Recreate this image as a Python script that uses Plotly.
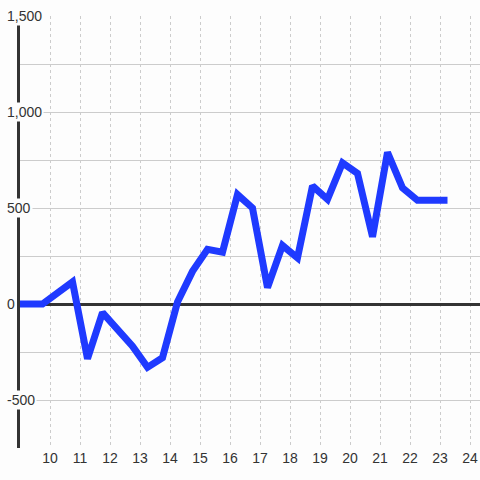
import plotly.graph_objects as go

x_vals = [9, 9.75, 10.75, 11.25, 11.75, 12.25, 12.75, 13.25, 13.75, 14.25, 14.75,
          15.25, 15.75, 16.25, 16.75, 17.25, 17.75, 18.25, 18.75, 19.25, 19.75,
          20.25, 20.75, 21.25, 21.75, 22.25, 22.75, 23.25]
y_vals = [0, 0, 115, -285, -45, -130, -220, -330, -280, 10, 170,
          285, 270, 570, 500, 85, 305, 240, 615, 545, 735,
          680, 350, 790, 605, 540, 540, 540]

x_ticks = list(range(10, 25))
y_label_vals = [-500, 0, 500, 1000, 1500]
y_label_text = ["-500", "0", "500", "1,000", "1,500"]

BG = "#fdfdfd"
AX = "#333333"
GRID = "#cccccc"

fig = go.Figure()
fig.add_trace(go.Scatter(x=x_vals, y=y_vals, mode="lines",
                         line=dict(color="#1f3aff", width=7),
                         hoverinfo="skip", showlegend=False))

for v, t in zip(y_label_vals, y_label_text):
    fig.add_annotation(x=-0.033, xref="paper", xanchor="left", y=v, yref="y",
                       text=t, showarrow=False, bgcolor=BG, borderpad=1,
                       font=dict(family="Liberation Sans, Arial", size=14, color=AX))

fig.update_layout(
    width=480, height=480,
    margin=dict(l=20, r=0, t=16, b=32),
    paper_bgcolor=BG, plot_bgcolor=BG,
    font=dict(family="Liberation Sans, Arial", size=14, color=AX),
    xaxis=dict(range=[9, 24 + 1/3], tickvals=x_ticks, showgrid=True,
               gridcolor=GRID, gridwidth=1, griddash="3px,3px",
               zeroline=False, showline=False, ticks=""),
    yaxis=dict(range=[-750, 1500], dtick=250, showgrid=True, gridcolor=GRID,
               gridwidth=1, zeroline=True, zerolinecolor=AX, zerolinewidth=3,
               showline=True, linecolor=AX, linewidth=3, showticklabels=False,
               ticks=""),
)

fig.write_html("out.html", config={"displayModeBar": False},
               post_script="document.body.style.margin='0';")
